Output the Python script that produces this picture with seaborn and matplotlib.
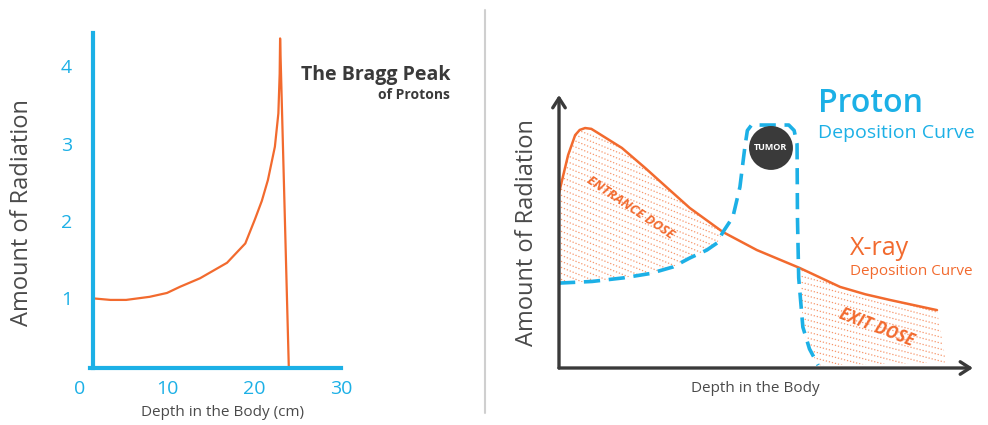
import numpy as np
import seaborn as sns
import matplotlib.pyplot as plt
from matplotlib.collections import LineCollection

# left panel: Bragg curve of protons
bragg_depth = [1.5, 3.5, 5.3, 8.0, 10.0, 11.5, 13.8, 16.9, 19.0, 20.1, 20.9, 21.6, 22.4, 22.8, 22.95, 23.0, 24.0]
bragg_dose = [1.00, 0.98, 0.98, 1.02, 1.07, 1.15, 1.26, 1.46, 1.71, 2.02, 2.26, 2.53, 2.96, 3.39, 3.90, 4.36, 0.11]
left_xticks = [0, 10, 20, 30]
left_yticks = [1, 2, 3, 4]

# right panel: schematic deposition curves (arbitrary units 0-10)
xray_depth = [0.0, 0.22, 0.39, 0.50, 0.63, 0.78, 0.94, 1.52, 2.08, 2.60, 3.16, 3.96, 4.78, 5.82, 6.79, 7.40, 8.00, 9.13]
xray_dose = [6.41, 7.80, 8.53, 8.72, 8.79, 8.76, 8.61, 8.06, 7.33, 6.62, 5.86, 4.98, 4.32, 3.66, 2.97, 2.70, 2.49, 2.12]
proton_depth = [0.0, 0.8, 1.55, 2.2, 2.75, 3.16, 3.57, 3.82, 3.96, 4.2, 4.37, 4.49, 4.55, 4.65,
                5.55, 5.68, 5.75, 5.76, 5.79, 5.89, 6.05, 6.26]
proton_dose = [3.11, 3.17, 3.30, 3.46, 3.70, 4.03, 4.32, 4.58, 4.98, 5.53, 6.63, 8.10, 8.70, 8.90,
               8.90, 8.70, 8.20, 5.50, 3.30, 1.50, 0.70, 0.10]
tumor_pos = (5.12, 8.06)

CYAN = '#1cb0e6'
ORANGE = '#f26a2e'
DARK = '#3a3a3a'
GRAY = '#4a4a4a'

sns.set_style('white')
plt.rcParams['font.family'] = ['Open Sans', 'DejaVu Sans']

fig = plt.figure(figsize=(9.88, 4.25), dpi=100)

# ---------- left panel ----------
ax1 = fig.add_axes([80 / 988, 57 / 425, 261 / 988, 335 / 425])
sns.lineplot(x=bragg_depth, y=bragg_dose, ax=ax1, color=ORANGE, lw=1.6,
             sort=False, estimator=None)
ax1.set_xlim(0, 30)
ax1.set_ylim(0.1, 4.43)
ax1.spines['left'].set_position(('data', 1.5))
ax1.spines['bottom'].set_bounds(1.2, 30)
for s in ['top', 'right']:
    ax1.spines[s].set_visible(False)
for s in ['left', 'bottom']:
    ax1.spines[s].set_color(CYAN)
    ax1.spines[s].set_linewidth(3)
ax1.set_xticks(left_xticks)
ax1.set_yticks(left_yticks)
ax1.tick_params(axis='x', direction='in', length=8, width=2.5, color=CYAN,
                labelcolor=CYAN, labelsize=14, pad=9)
ax1.tick_params(axis='y', direction='in', length=8, width=2.5, color=CYAN,
                labelcolor=CYAN, labelsize=14, pad=15)
ax1.xaxis.get_major_ticks()[0].tick1line.set_visible(False)
ax1.xaxis.get_major_ticks()[-1].tick1line.set_visible(False)
ax1.set_xlabel('')
ax1.set_ylabel('')

fig.text(450 / 988, 1 - 80 / 425, 'The Bragg Peak', ha='right', va='baseline',
         fontsize=14, fontweight='bold', color=DARK)
fig.text(450 / 988, 1 - 99 / 425, 'of Protons', ha='right', va='baseline',
         fontsize=10, fontweight='bold', color=DARK)
fig.text(22 / 988, 1 - 213 / 425, 'Amount of Radiation', rotation=90,
         ha='center', va='center', fontsize=17, color=GRAY)
fig.text(222 / 988, 1 - 412 / 425, 'Depth in the Body (cm)', ha='center',
         va='center', fontsize=11, color=GRAY)

# divider
fig.add_artist(plt.Line2D([485 / 988, 485 / 988], [1 - 10 / 425, 1 - 413 / 425],
                          color='#cfcfcf', lw=1.5))

# ---------- right panel ----------
ax2 = fig.add_axes([559 / 988, 57 / 425, 414 / 988, 273 / 425])
ax2.set_xlim(0, 10)
ax2.set_ylim(0, 10)
ax2.axis('off')

for end in [(1, 0), (0, 1)]:
    ax2.annotate('', xy=end, xytext=(0, 0), xycoords='axes fraction',
                 textcoords='axes fraction',
                 arrowprops=dict(arrowstyle='->,head_length=0.7,head_width=0.45',
                                 color=DARK, lw=2.4, shrinkA=0, shrinkB=0))


# hatched dose regions
def hatch_region(poly_x, poly_y, slope, spacing):
    patch = ax2.fill(poly_x, poly_y, facecolor='none', edgecolor='none')[0]
    xs = np.array([-1.0, 11.0])
    segs = [np.column_stack([xs, c - slope * xs]) for c in np.arange(-2, 20, spacing)]
    lc = LineCollection(segs, colors=ORANGE, linewidths=0.9,
                        linestyles=(0, (1.0, 1.5)), alpha=0.7)
    ax2.add_collection(lc)
    lc.set_clip_path(patch)


cross_in = xray_depth[xray_dose.index(4.98)]
ent = [(x, y) for x, y in zip(xray_depth, xray_dose) if x <= cross_in]
ent += [(x, y) for x, y in zip(proton_depth, proton_dose) if x <= cross_in][::-1]
hatch_region([p[0] for p in ent], [p[1] for p in ent], 0.62, 0.22)

ext = [(x, y) for x, y in zip(xray_depth, xray_dose) if x >= 5.82]
ext += [(xray_depth[-1] + 0.22, 0.2)]
ext += [(x, y) for x, y in zip(proton_depth, proton_dose) if x >= 5.89][::-1]
hatch_region([p[0] for p in ext], [p[1] for p in ext], 0.40, 0.22)

sns.lineplot(x=xray_depth, y=xray_dose, ax=ax2, color=ORANGE, lw=1.8,
             sort=False, estimator=None)
sns.lineplot(x=proton_depth, y=proton_dose, ax=ax2, color=CYAN, lw=2.6,
             sort=False, estimator=None, linestyle=(0, (4.5, 2.4)))
ax2.set_xlim(0, 10)
ax2.set_ylim(0, 10)

ax2.scatter([tumor_pos[0]], [tumor_pos[1]], s=1000, color=DARK, zorder=5,
            edgecolors='none')
ax2.text(tumor_pos[0], tumor_pos[1], 'TUMOR', ha='center', va='center',
         fontsize=6.5, fontweight='bold', color='white', zorder=6)

ax2.text(1.72, 5.86, 'ENTRANCE DOSE', rotation=-34, ha='center', va='center',
         fontsize=9.5, fontweight='bold', fontstyle='italic', color=ORANGE,
         rotation_mode='anchor')
ax2.text(7.68, 1.50, 'EXIT DOSE', rotation=-21, ha='center', va='center',
         fontsize=12, fontweight='bold', fontstyle='italic', color=ORANGE,
         rotation_mode='anchor')

ax2.text(6.26, 9.38, 'Proton', ha='left', va='baseline', fontsize=23,
         fontweight='semibold', color=CYAN, clip_on=False)
ax2.text(6.26, 8.42, 'Deposition Curve', ha='left', va='baseline', fontsize=14,
         color=CYAN, clip_on=False)
ax2.text(7.03, 4.14, 'X-ray', ha='left', va='baseline', fontsize=18,
         color=ORANGE, clip_on=False)
ax2.text(7.03, 3.41, 'Deposition Curve', ha='left', va='baseline', fontsize=11,
         color=ORANGE, clip_on=False)

fig.text(527 / 988, 1 - 233 / 425, 'Amount of Radiation', rotation=90,
         ha='center', va='center', fontsize=17, color=GRAY)
fig.text(755 / 988, 1 - 388 / 425, 'Depth in the Body', ha='center',
         va='center', fontsize=11, color=GRAY)

fig.savefig('out.png', dpi=100)
